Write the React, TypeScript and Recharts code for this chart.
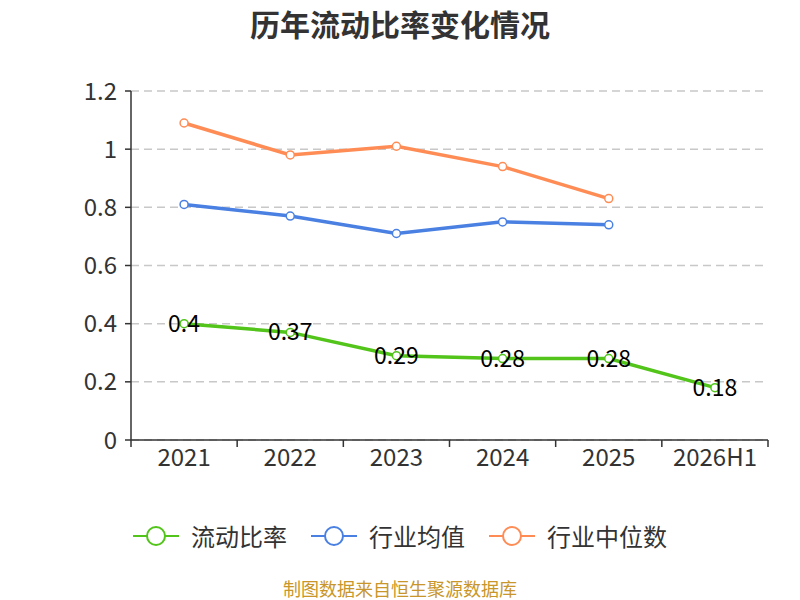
import React from "react";
import {
  LineChart,
  Line,
  XAxis,
  YAxis,
  CartesianGrid,
  Legend,
  LabelList,
} from "recharts";

const years = ["2021", "2022", "2023", "2024", "2025", "2026H1"];
const currentRatio = [0.4, 0.37, 0.29, 0.28, 0.28, 0.18];
const industryMean = [0.81, 0.77, 0.71, 0.75, 0.74, null];
const industryMedian = [1.09, 0.98, 1.01, 0.94, 0.83, null];
const yTicks = [0, 0.2, 0.4, 0.6, 0.8, 1, 1.2];

const FONT = '"Noto Sans CJK SC", "Noto Sans", sans-serif';
const GREEN = "#52c41a";
const BLUE = "#4a80e2";
const ORANGE = "#ff8c55";

const data = years.map((year, i) => ({
  x: i + 0.5,
  year,
  current: currentRatio[i],
  mean: industryMean[i],
  median: industryMedian[i],
}));

// half positions carry the year labels, whole positions carry the tick marks
const xTicks = years.flatMap((_, i) => [i, i + 0.5]).concat(years.length);

const series = [
  { key: "current", name: "流动比率", color: GREEN },
  { key: "mean", name: "行业均值", color: BLUE },
  { key: "median", name: "行业中位数", color: ORANGE },
];

const XTick = (props: any) => {
  const { x, y, payload } = props;
  const v = payload.value;
  if (Number.isInteger(v)) {
    return <line x1={x} x2={x} y1={y} y2={y + 7} stroke="#333" strokeWidth={1.5} />;
  }
  return (
    <text x={x} y={y + 26} textAnchor="middle" fill="#333" fontSize={24} fontFamily={FONT}>
      {years[Math.floor(v)]}
    </text>
  );
};

const renderLegend = () => (
  <div style={{ display: "flex", justifyContent: "center", gap: 24, fontFamily: FONT }}>
    {series.map((s) => (
      <div key={s.key} style={{ display: "flex", alignItems: "center" }}>
        <svg width={46} height={24} style={{ marginRight: 12 }}>
          <line x1={0} x2={46} y1={12} y2={12} stroke={s.color} strokeWidth={2} />
          <circle cx={23} cy={12} r={9} fill="#fff" stroke={s.color} strokeWidth={2} />
        </svg>
        <span style={{ fontSize: 24, color: "#333" }}>{s.name}</span>
      </div>
    ))}
  </div>
);

const renderValue = (props: any) => {
  const { x, y, value } = props;
  return (
    <text x={x} y={y} dy={-2} textAnchor="middle" dominantBaseline="central" fill="#000" fontSize={23} fontFamily={FONT}>
      {value}
    </text>
  );
};

export default function App() {
  return (
    <div style={{ position: "absolute", left: 0, top: 0, width: 800, height: 600, background: "#fff", overflow: "hidden" }}>
      <div
        style={{
          position: "absolute",
          top: 3,
          width: 800,
          textAlign: "center",
          fontFamily: FONT,
          fontWeight: "bold",
          fontSize: 30,
          lineHeight: "40px",
          color: "#333",
        }}
      >
        历年流动比率变化情况
      </div>
      <LineChart width={800} height={600} data={data} margin={{ top: 91, right: 32, left: 71, bottom: 130 }}>
        <CartesianGrid vertical={false} stroke="#c8c8c8" strokeDasharray="8 5" strokeWidth={1.5} />
        <XAxis
          dataKey="x"
          type="number"
          domain={[0, 6]}
          ticks={xTicks}
          interval={0}
          tick={<XTick />}
          tickLine={false}
          tickSize={0}
          tickMargin={0}
          height={30}
          axisLine={{ stroke: "#333", strokeWidth: 1.5 }}
          allowDataOverflow
        />
        <YAxis
          domain={[0, 1.2]}
          ticks={yTicks}
          interval={0}
          width={60}
          tickSize={6}
          tickMargin={8}
          tick={{ fill: "#333", fontSize: 24, fontFamily: FONT }}
          tickLine={{ stroke: "#333", strokeWidth: 1.5 }}
          axisLine={{ stroke: "#333", strokeWidth: 1.5 }}
        />
        <Legend
          verticalAlign="middle"
          content={renderLegend}
          wrapperStyle={{ top: 518, left: 0, width: 800 }}
        />
        {series.map((s) => (
          <Line
            key={s.key}
            dataKey={s.key}
            name={s.name}
            stroke={s.color}
            strokeWidth={3.5}
            dot={{ r: 4, fill: "#fff", stroke: s.color, strokeWidth: 1.5 }}
            activeDot={false}
            isAnimationActive={false}
          >
            {s.key === "current" && <LabelList dataKey="current" content={renderValue} />}
          </Line>
        ))}
      </LineChart>
      <div
        style={{
          position: "absolute",
          top: 578,
          width: 800,
          textAlign: "center",
          fontFamily: FONT,
          fontSize: 18,
          lineHeight: "20px",
          color: "#c8962a",
        }}
      >
        制图数据来自恒生聚源数据库
      </div>
    </div>
  );
}
